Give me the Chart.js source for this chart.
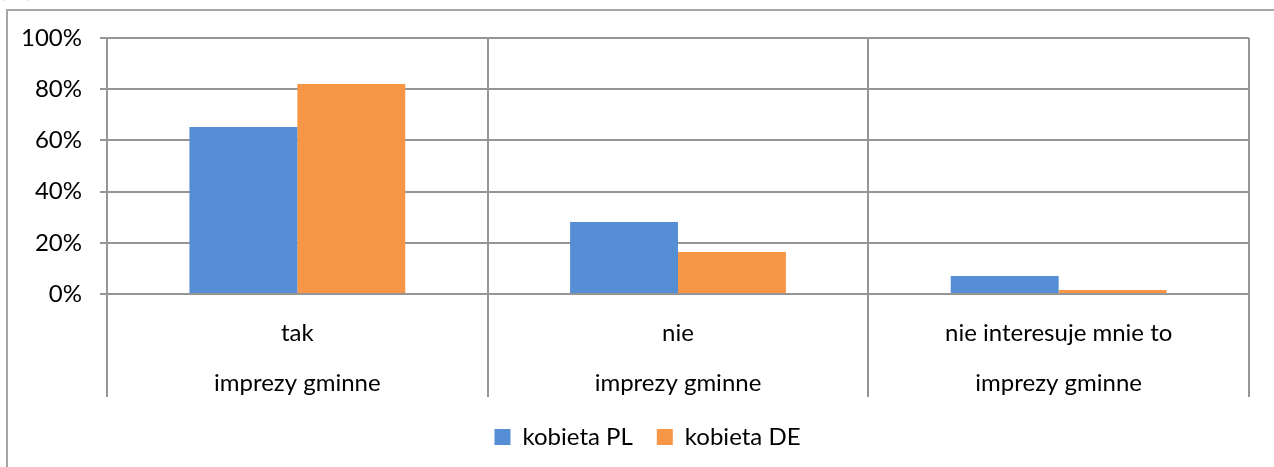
<!DOCTYPE html>
<html><head><meta charset="utf-8">
<script src="https://cdn.jsdelivr.net/npm/chart.js@4.4.1/dist/chart.umd.min.js"></script>
<style>
html,body{margin:0;padding:0;background:#fff;overflow:hidden}
#wrap{position:relative;width:1274px;height:467px;overflow:hidden}
#frame{position:absolute;left:6px;top:9px;width:1290px;height:480px;border:2px solid #a6a6a6;box-sizing:border-box}
#unit{position:absolute;left:0px;top:-27px;font:24px Lato, sans-serif;color:#000}
canvas{position:absolute;left:0;top:0}
</style></head><body>
<div id="wrap"><div id="unit">(%)</div><div id="frame"></div><canvas id="c" width="1274" height="467"></canvas></div>
<script>
const categories = ['tak', 'nie', 'nie interesuje mnie to'];
const groupLabel = 'imprezy gminne';
const seriesNames = ['kobieta PL', 'kobieta DE'];
const kobietaPL = [65.2, 28.1, 7.0];
const kobietaDE = [82.0, 16.4, 1.6];
const yTicks = [0, 20, 40, 60, 80, 100];
const colors = ['#558ED5', '#F79646'];

const FONT = 'Lato, sans-serif';
const FS = 24;
const GRID = '#959595';

const labels = categories.map(c => [c, groupLabel]);

const legendShift = {
  id: 'legendShift',
  afterLayout(chart) {
    if (chart.legend) { chart.legend.left += 23; chart.legend.right += 23; }
  }
};

new Chart(document.getElementById('c'), {
  type: 'bar',
  data: {
    labels: labels,
    datasets: [
      { label: seriesNames[0], data: kobietaPL, backgroundColor: colors[0], borderWidth: 0 },
      { label: seriesNames[1], data: kobietaDE, backgroundColor: colors[1], borderWidth: 0 }
    ]
  },
  plugins: [legendShift],
  options: {
    responsive: false,
    animation: false,
    devicePixelRatio: 1,
    layout: { padding: { top: 38, right: 25, left: 0, bottom: 8 } },
    datasets: { bar: { categoryPercentage: 0.567, barPercentage: 1.0 } },
    plugins: {
      legend: {
        position: 'bottom',
        labels: { boxWidth: 16, boxHeight: 16, font: { family: FONT, size: FS }, color: '#000', padding: 24 }
      },
      tooltip: { enabled: false }
    },
    scales: {
      x: {
        offset: true,
        grid: { offset: true, color: GRID, lineWidth: 2, drawTicks: true, tickLength: 103, tickColor: GRID },
        border: { color: GRID, width: 2 },
        ticks: { color: '#000', font: { family: FONT, size: FS, lineHeight: 50 / FS }, padding: -89, maxRotation: 0, autoSkip: false },
        afterFit: s => { s.height = 107; }
      },
      y: {
        min: 0, max: 100,
        afterBuildTicks: s => { s.ticks = yTicks.map(v => ({ value: v })); },
        grid: { color: GRID, lineWidth: 2, drawTicks: true, tickLength: 7, tickColor: GRID },
        border: { color: GRID, width: 2 },
        ticks: { color: '#000', font: { family: FONT, size: FS }, padding: 18, callback: v => v + '%' },
        afterFit: s => { s.width = 107; }
      }
    }
  }
});
</script>
</body></html>
